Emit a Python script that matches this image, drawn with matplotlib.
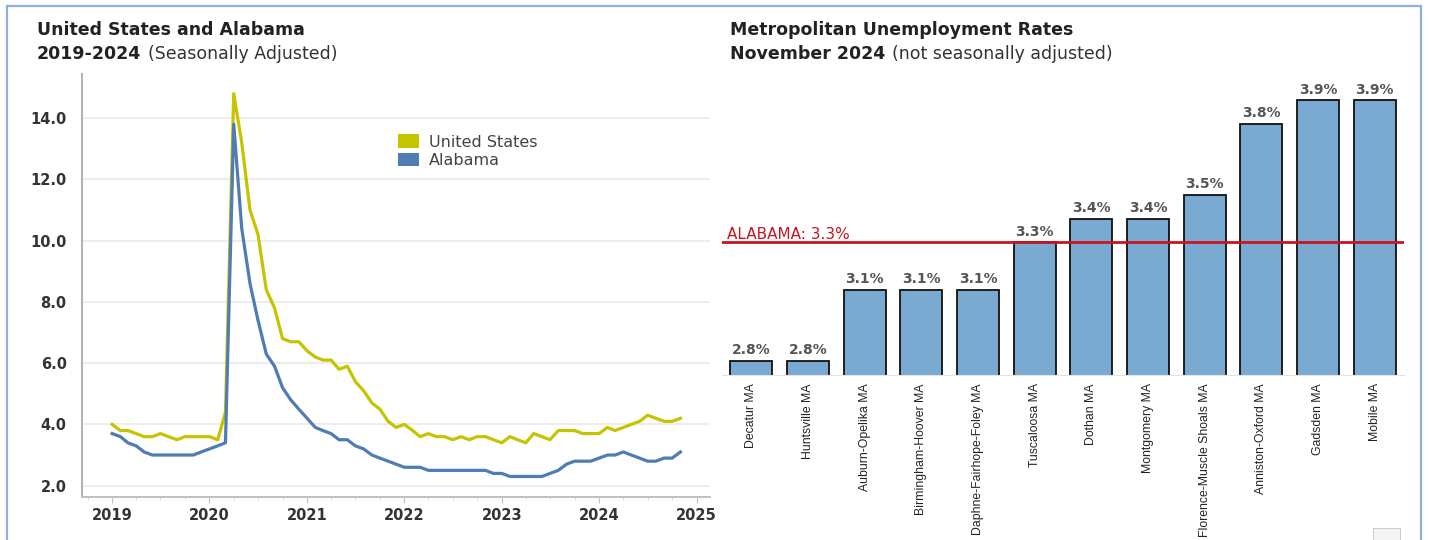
"""Alabama unemployment: state vs US trend and metro bars (Nov 2024)."""

import matplotlib

matplotlib.use("Agg")
import matplotlib.dates as mdates
import matplotlib.pyplot as plt
import matplotlib.ticker as mticker
import pandas as pd
from matplotlib.patches import Patch, Rectangle

# --- data -------------------------------------------------------------------
months = pd.date_range("2019-01-01", "2024-11-01", freq="MS")

us_rate = [
    4.0, 3.8, 3.8, 3.7, 3.6, 3.6, 3.7, 3.6, 3.5, 3.6, 3.6, 3.6,
    3.6, 3.5, 4.4, 14.8, 13.2, 11.0, 10.2, 8.4, 7.8, 6.8, 6.7, 6.7,
    6.4, 6.2, 6.1, 6.1, 5.8, 5.9, 5.4, 5.1, 4.7, 4.5, 4.1, 3.9,
    4.0, 3.8, 3.6, 3.7, 3.6, 3.6, 3.5, 3.6, 3.5, 3.6, 3.6, 3.5,
    3.4, 3.6, 3.5, 3.4, 3.7, 3.6, 3.5, 3.8, 3.8, 3.8, 3.7, 3.7,
    3.7, 3.9, 3.8, 3.9, 4.0, 4.1, 4.3, 4.2, 4.1, 4.1, 4.2,
]
al_rate = [
    3.7, 3.6, 3.4, 3.3, 3.1, 3.0, 3.0, 3.0, 3.0, 3.0, 3.0, 3.1,
    3.2, 3.3, 3.4, 13.8, 10.4, 8.6, 7.4, 6.3, 5.9, 5.2, 4.8, 4.5,
    4.2, 3.9, 3.8, 3.7, 3.5, 3.5, 3.3, 3.2, 3.0, 2.9, 2.8, 2.7,
    2.6, 2.6, 2.6, 2.5, 2.5, 2.5, 2.5, 2.5, 2.5, 2.5, 2.5, 2.4,
    2.4, 2.3, 2.3, 2.3, 2.3, 2.3, 2.4, 2.5, 2.7, 2.8, 2.8, 2.8,
    2.9, 3.0, 3.0, 3.1, 3.0, 2.9, 2.8, 2.8, 2.9, 2.9, 3.1,
]

metros = [
    "Decatur MA", "Huntsville MA", "Auburn-Opelika MA", "Birmingham-Hoover MA",
    "Daphne-Fairhope-Foley MA", "Tuscaloosa MA", "Dothan MA", "Montgomery MA",
    "Florence-Muscle Shoals MA", "Anniston-Oxford MA", "Gadsden MA", "Mobile MA",
]
metro_rate = [2.8, 2.8, 3.1, 3.1, 3.1, 3.3, 3.4, 3.4, 3.5, 3.8, 3.9, 3.9]
alabama_rate = 3.3

# --- style ------------------------------------------------------------------
US_COLOR = "#c6c300"
AL_COLOR = "#4f7db3"
BAR_COLOR = "#7aaad2"
RED = "#c8141e"
TEXT = "#333333"
TITLE_SIZE = 12.5
W, H = 1429, 540

plt.rcParams["font.family"] = ["DejaVu Sans"]

fig = plt.figure(figsize=(W / 100, H / 100), dpi=100)
fig.patch.set_facecolor("white")


def fx(px):
    return px / W


def fy(py):
    return 1 - py / H


# outer frame + little widget box
fig.add_artist(Rectangle((fx(7), fy(560)), fx(1421 - 7), (560 - 6) / H,
                         transform=fig.transFigure, fill=False,
                         edgecolor="#8fb0de", linewidth=1.6))
fig.add_artist(Rectangle((fx(1373), fy(545)), fx(27), 17 / H,
                         transform=fig.transFigure, facecolor="#f5f5f5",
                         edgecolor="#cccccc", linewidth=0.8))

# --- left: line chart -------------------------------------------------------
ax1 = fig.add_axes([fx(82), fy(497), fx(710 - 82), (497 - 74) / H])
ax1.plot(months, us_rate, color=US_COLOR, linewidth=2.3, zorder=3)
ax1.plot(months, al_rate, color=AL_COLOR, linewidth=2.3, zorder=4)

ax1.set_ylim(1.63, 15.44)
ax1.set_xlim(pd.Timestamp("2018-09-10"), pd.Timestamp("2025-02-20"))
ax1.set_yticks([2, 4, 6, 8, 10, 12, 14])
ax1.yaxis.set_major_formatter(mticker.FormatStrFormatter("%.1f"))
ax1.xaxis.set_major_locator(mdates.YearLocator())
ax1.xaxis.set_major_formatter(mdates.DateFormatter("%Y"))
ax1.xaxis.set_minor_locator(mdates.MonthLocator(bymonth=[4, 7, 10]))
ax1.grid(axis="y", color="#ececec", linewidth=1.3)
ax1.set_axisbelow(True)
for side in ("top", "right"):
    ax1.spines[side].set_visible(False)
ax1.spines["left"].set_color("#b0b0b0")
ax1.spines["left"].set_linewidth(1.4)
ax1.spines["bottom"].set_color("#c0c0c0")
ax1.spines["bottom"].set_linewidth(1.4)
ax1.tick_params(axis="y", length=0, pad=11, labelsize=10.5, labelcolor=TEXT)
ax1.tick_params(axis="x", which="major", length=4, color="#c0c0c0",
                pad=4, labelsize=10.5, labelcolor=TEXT)
ax1.tick_params(axis="x", which="minor", length=2.5, color="#d0d0d0")
for lab in ax1.get_xticklabels() + ax1.get_yticklabels():
    lab.set_fontweight("bold")

handles = [Patch(facecolor=US_COLOR, edgecolor="none", label="United States"),
           Patch(facecolor=AL_COLOR, edgecolor="none", label="Alabama")]
ax1.legend(handles=handles, loc="upper left",
           bbox_to_anchor=(fx(392), fy(128)), bbox_transform=fig.transFigure,
           frameon=False, fontsize=11.5, handlelength=1.3, handleheight=0.9,
           handletextpad=0.6, labelspacing=0.2, labelcolor="#444444",
           borderaxespad=0)

# --- right: metro bars ------------------------------------------------------
ax2 = fig.add_axes([fx(722), fy(375), fx(1404 - 722), (375 - 65) / H])
pos = range(len(metros))
bars = ax2.bar(pos, metro_rate, width=0.74, color=BAR_COLOR,
               edgecolor="#111111", linewidth=1.3, zorder=2)
ax2.set_ylim(2.74, 4.048)
ax2.set_xlim(-0.52, 11.52)
ax2.axhline(alabama_rate, color=RED, linewidth=2.0, zorder=3)
ax2.text(0.008, alabama_rate, "ALABAMA: 3.3%", transform=ax2.get_yaxis_transform(),
         color=RED, fontsize=11, va="bottom", ha="left",
         bbox=dict(boxstyle="square,pad=0.12", fc="none", ec="none"))
for rect, val in zip(bars, metro_rate):
    ax2.annotate(f"{val:.1f}%", xy=(rect.get_x() + rect.get_width() / 2, val),
                 xytext=(0, 2.5), textcoords="offset points", ha="center",
                 va="bottom", fontsize=10, fontweight="bold", color="#555555")

ax2.set_xticks(list(pos))
ax2.set_xticklabels(metros, rotation=90, fontsize=8.8, color="#222222",
                    family=["Liberation Sans", "DejaVu Sans"])
ax2.set_yticks([])
for side in ("top", "right", "left"):
    ax2.spines[side].set_visible(False)
ax2.spines["bottom"].set_color("#e3e3e3")
ax2.tick_params(axis="x", length=0, pad=6)

# --- titles -----------------------------------------------------------------
fig.text(fx(37), fy(30), "United States and Alabama", fontsize=TITLE_SIZE,
         fontweight="bold", color="#222222", va="center")
t2 = fig.text(fx(37), fy(54), "2019-2024", fontsize=TITLE_SIZE,
              fontweight="bold", color="#222222", va="center")
ax1.annotate("(Seasonally Adjusted)", xy=(1, 0.5), xycoords=t2,
             xytext=(5, 0), textcoords="offset points", fontsize=TITLE_SIZE,
             color="#333333", va="center", annotation_clip=False)

fig.text(fx(730), fy(30), "Metropolitan Unemployment Rates",
         fontsize=TITLE_SIZE, fontweight="bold", color="#222222", va="center")
t4 = fig.text(fx(730), fy(54), "November 2024", fontsize=TITLE_SIZE,
              fontweight="bold", color="#222222", va="center")
ax2.annotate("(not seasonally adjusted)", xy=(1, 0.5), xycoords=t4,
             xytext=(5, 0), textcoords="offset points", fontsize=TITLE_SIZE,
             color="#333333", va="center", annotation_clip=False)

fig.savefig("out.png", dpi=100)
plt.close(fig)
